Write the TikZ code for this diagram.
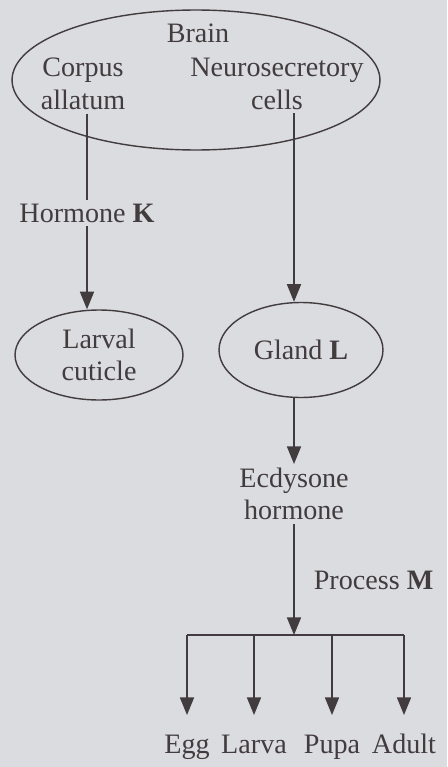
\documentclass[tikz,border=0pt]{standalone}
\usepackage{fontspec}
\setmainfont{Liberation Serif}
\usetikzlibrary{arrows.meta,positioning,shapes.geometric}
\definecolor{paper}{RGB}{219,220,223}
\definecolor{ink}{RGB}{66,60,62}

\begin{document}
\begin{tikzpicture}[x=0.02cm,y=-0.02cm,>={Triangle[length=10pt,width=8pt]},
    txt/.style={text=ink,font=\fontsize{16}{18.5}\selectfont,align=center,inner sep=2pt},
    ovl/.style={ellipse,draw=ink,line width=0.8pt,inner sep=0pt},
    ln/.style={draw=ink,line width=0.8pt}]
  \fill[paper] (0,0) rectangle (447,767);
  \useasboundingbox (0,0) rectangle (447,767);
  % brain with its two regions
  \node[ovl,minimum width=7.36cm,minimum height=2.8cm] (brain) at (196,80) {};
  \node[txt] (brainlbl) at (198,33) {Brain};
  \node[txt] (corpus) at (83,84) {Corpus\\allatum};
  \node[txt] (neuro) at (277,84) {Neurosecretory\\cells};
  % left branch
  \node[txt] (hormK) at (87,213) {Hormone \textbf{K}};
  \node[ovl,txt,minimum width=3.36cm,minimum height=1.8cm] (larval) at (99,355) {Larval\\cuticle};
  % right branch
  \node[ovl,txt,minimum width=3.28cm,minimum height=1.9cm] (gland) at (301,350) {Gland \textbf{L}};
  \node[txt] (ecdy) at (294,494) {Ecdysone\\hormone};
  \node[txt,anchor=west] (procM) at (310,580) {Process \textbf{M}};
  \coordinate (hub) at (294,635);
  % stages
  \foreach \x/\nm/\lbl in {187/egg/Egg, 254/larva/Larva, 332/pupa/Pupa, 404/adult/Adult}
    \node[txt,anchor=base] (\nm) at (\x,753) {\lbl};
  % connectors
  \draw[ln] (hormK |- corpus.south) -- (hormK.north);
  \draw[ln,->] (hormK.south) -- (hormK |- larval.north);
  \draw[ln,->] (ecdy |- neuro.south) -- (ecdy |- gland.north);
  \draw[ln,->] (ecdy |- gland.south) -- (ecdy.north);
  \draw[ln,->] (ecdy.south) -- (hub);
  \draw[ln] (egg |- hub) -- (adult |- hub);
  \foreach \nm in {egg,larva,pupa,adult}
    \draw[ln,->] (\nm |- hub) -- ([yshift=0.76cm]\nm.base);
\end{tikzpicture}
\end{document}
